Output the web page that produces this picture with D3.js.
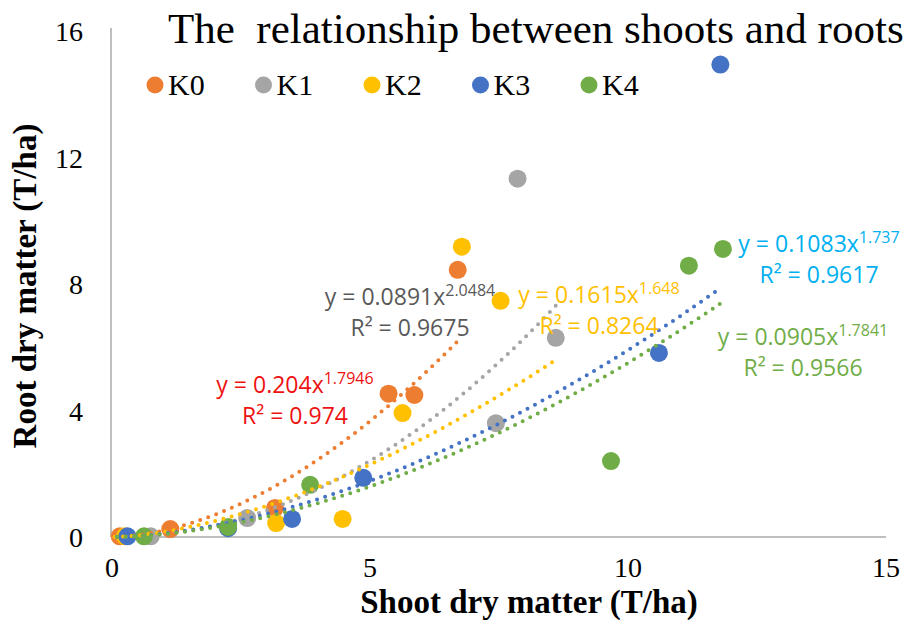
<!DOCTYPE html>
<meta charset="utf-8">
<style>
  body { margin: 0; background: #fff; }
  text { white-space: pre; }
</style>
<svg width="907" height="626"></svg>
<script src="https://cdn.jsdelivr.net/npm/d3@7"></script>
<script>

var names = ["K0", "K1", "K2", "K3", "K4"];
var colors = ["#ED7D31", "#A5A5A5", "#FFC000", "#4472C4", "#70AD47"];
var eqColors = ["#EE1111", "#595959", "#FFC000", "#00B0F0", "#70AD47"];

// shoot (x) and root (y) dry matter, T/ha
var k0 = [[0.15, 0.02], [1.13, 0.25], [3.16, 0.92], [5.36, 4.53], [5.86, 4.49], [6.7, 8.45]];
var k1 = [[0.75, 0.02], [2.62, 0.6], [7.44, 3.6], [8.6, 6.3], [7.86, 11.33]];
var k2 = [[0.25, 0.02], [3.18, 0.44], [4.47, 0.57], [5.63, 3.92], [7.53, 7.47], [6.78, 9.18]];
var k3 = [[0.3, 0.02], [2.25, 0.28], [3.49, 0.57], [4.87, 1.87], [10.6, 5.82], [11.79, 14.94]];
var k4 = [[0.62, 0.02], [2.25, 0.32], [3.84, 1.65], [9.67, 2.4], [11.18, 8.58], [11.84, 9.11]];
var seriesData = [k0, k1, k2, k3, k4];

// power trend y = a * x^b
var coefA = [0.204, 0.0891, 0.1615, 0.1083, 0.0905];
var coefB = [1.7946, 2.0484, 1.648, 1.737, 1.7841];
var rSquared = ["0.974", "0.9675", "0.8264", "0.9617", "0.9566"];
var fitRange = [[0.1, 6.7], [0.1, 8.6], [0.05, 8.55], [0.1, 11.79], [0.1, 11.84]];

var xTicks = [0, 5, 10, 15];
var yTicks = [0, 4, 8, 12, 16];

// where each equation label sits (center x, first baseline y)
var eqPos = [[295, 393], [410, 305], [599, 303], [819, 252], [803, 345]];

var svg = d3.select("svg");
svg.append("rect").attr("width", 907).attr("height", 626).attr("fill", "#fff");

var x = d3.scaleLinear().domain([0, 15]).range([112, 886]);
var y = d3.scaleLinear().domain([0, 16]).range([537, 31]);

// axes lines
svg.append("line").attr("x1", x(0)).attr("x2", x(15)).attr("y1", y(0)).attr("y2", y(0))
  .attr("stroke", "#BFBFBF").attr("stroke-width", 2);
svg.append("line").attr("x1", x(0) - 1).attr("x2", x(0) - 1).attr("y1", y(0)).attr("y2", y(16) - 3)
  .attr("stroke", "#BFBFBF").attr("stroke-width", 2);

svg.selectAll(".xt").data(xTicks).enter().append("text")
  .attr("x", function(d) { return x(d); })
  .attr("y", 577)
  .attr("text-anchor", "middle")
  .style("font", "28px 'Liberation Serif'")
  .text(function(d) { return d; });

svg.selectAll(".yt").data(yTicks).enter().append("text")
  .attr("x", 83)
  .attr("y", function(d) { return y(d) + 10; })
  .attr("text-anchor", "end")
  .style("font", "28px 'Liberation Serif'")
  .text(function(d) { return d; });

svg.append("text")
  .attr("x", 529).attr("y", 613)
  .attr("text-anchor", "middle")
  .style("font", "bold 33px 'Liberation Serif'")
  .text("Shoot dry matter (T/ha)");

svg.append("text")
  .attr("transform", "translate(36,286) rotate(-90)")
  .attr("text-anchor", "middle")
  .style("font", "bold 33px 'Liberation Serif'")
  .text("Root dry matter (T/ha)");

svg.append("text")
  .attr("x", 168).attr("y", 43)
  .style("font", "43px 'Liberation Serif'")
  .text("The  relationship between shoots and roots");

// legend
var leg = svg.selectAll(".leg").data(names).enter().append("g")
  .attr("transform", function(d, i) { return "translate(" + (155 + i * 108.5) + ",85)"; });
leg.append("circle").attr("r", 8.5).attr("fill", function(d, i) { return colors[i]; });
leg.append("text").attr("x", 13).attr("y", 10)
  .style("font", "30px 'Liberation Serif'")
  .text(function(d) { return d; });

// points
seriesData.forEach(function(pts, i) {
  svg.append("g").selectAll("circle").data(pts).enter().append("circle")
    .attr("cx", function(d) { return x(d[0]); })
    .attr("cy", function(d) { return y(d[1]); })
    .attr("r", 9)
    .attr("fill", colors[i]);
});

// dotted power trendlines
var line = d3.line().x(function(d) { return x(d[0]); }).y(function(d) { return y(d[1]); });
seriesData.forEach(function(pts, i) {
  var xs = d3.range(0, 101).map(function(k) {
    return fitRange[i][0] + (fitRange[i][1] - fitRange[i][0]) * k / 100;
  });
  var curve = xs.map(function(v) { return [v, coefA[i] * Math.pow(v, coefB[i])]; });
  svg.append("path")
    .attr("d", line(curve))
    .attr("fill", "none")
    .attr("stroke", colors[i])
    .attr("stroke-width", 4)
    .attr("stroke-linecap", "round")
    .attr("stroke-dasharray", "0,8.5");
});

// equation labels
names.forEach(function(n, i) {
  var t = svg.append("text")
    .attr("x", eqPos[i][0]).attr("y", eqPos[i][1])
    .attr("text-anchor", "middle")
    .attr("fill", eqColors[i])
    .style("font", "23px 'Open Sans'");
  t.append("tspan").text("y = " + coefA[i] + "x");
  t.append("tspan").attr("dy", -9).style("font-size", "16px").text(coefB[i]);
  svg.append("text")
    .attr("x", eqPos[i][0]).attr("y", eqPos[i][1] + 31)
    .attr("text-anchor", "middle")
    .attr("fill", eqColors[i])
    .style("font", "23px 'Open Sans'")
    .text("R² = " + rSquared[i]);
});

</script>
